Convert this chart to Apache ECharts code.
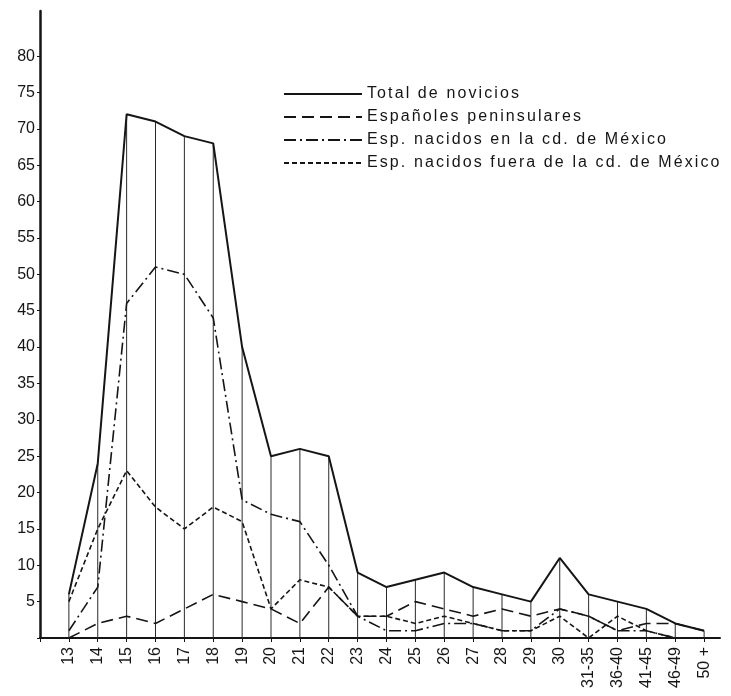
<!DOCTYPE html>
<html>
<head>
<meta charset="utf-8">
<script src="https://cdn.jsdelivr.net/npm/echarts@6/dist/echarts.min.js"></script>
<style>
  html, body { margin: 0; padding: 0; background: #ffffff; }
  #chart { width: 731px; height: 696px; }
</style>
</head>
<body>
<div id="chart"></div>
<script>
// ---- data ----
const categories = ['13','14','15','16','17','18','19','20','21','22','23','24','25','26','27','28','29','30','31-35','36-40','41-45','46-49','50 +'];
const totalNovicios = [6,24,72,71,69,68,40,25,26,25,9,7,8,9,7,6,5,11,6,5,4,2,1];
const peninsulares  = [0,2,3,2,4,6,5,4,2,7,3,3,5,4,3,4,3,4,3,1,2,2,1];
const nacidosCiudad = [1,7,46,51,50,44,19,17,16,10,3,1,1,2,2,1,1,4,3,1,1,0,0];
const nacidosFuera  = [5,15,23,18,15,18,16,4,8,7,3,3,2,3,2,1,1,3,0,3,1,0,0];
const yTickLabels = [5,10,15,20,25,30,35,40,45,50,55,60,65,70,75,80];
const seriesNames = ['Total de novicios','Españoles peninsulares','Esp. nacidos en la cd. de México','Esp. nacidos fuera de la cd. de México'];

// the printed legend is typeset with wide tracking: widen only those strings
(function () {
  const spaced = new Set(seriesNames);
  const proto = CanvasRenderingContext2D.prototype;
  const origFill = proto.fillText;
  proto.fillText = function (t, x, y, w) {
    if (spaced.has(t) && 'letterSpacing' in this) {
      const prev = this.letterSpacing;
      this.letterSpacing = '2.1px';
      const r = w === undefined ? origFill.call(this, t, x, y) : origFill.call(this, t, x, y, w);
      this.letterSpacing = prev;
      return r;
    }
    return w === undefined ? origFill.call(this, t, x, y) : origFill.call(this, t, x, y, w);
  };
})();

// x position of each category = its index + 1 (the axis starts at 0)
const pts = arr => arr.map((v, i) => [i + 1, v]);
const xLabelValues = categories.map((c, i) => i + 1);

const ink = '#151515';
const font = 'Liberation Sans, Arial, Helvetica, sans-serif';

const chart = echarts.init(document.getElementById('chart'), null, { renderer: 'canvas' });
chart.setOption({
  backgroundColor: '#ffffff',
  animation: false,
  grid: { left: 40, right: 11, top: 11, bottom: 58, containLabel: false },
  legend: {
    data: seriesNames,
    orient: 'vertical',
    left: 278,
    top: 81,
    padding: 5,
    itemWidth: 78,
    itemHeight: 14,
    itemGap: 7,
    itemStyle: { opacity: 0 },
    textStyle: { color: ink, fontSize: 16, lineHeight: 14, fontFamily: font },
    selectedMode: false
  },
  xAxis: {
    type: 'value',
    min: 0,
    max: 23.55,
    splitLine: { show: false },
    axisLine: { show: true, onZero: false, lineStyle: { color: ink, width: 2 } },
    axisTick: { show: true, length: 4, customValues: [0].concat(xLabelValues), lineStyle: { color: ink, width: 1 } },
    axisLabel: {
      customValues: xLabelValues,
      rotate: 90,
      margin: 9,
      color: ink,
      fontSize: 16,
      fontFamily: font,
      formatter: v => categories[Math.round(v) - 1] || ''
    }
  },
  yAxis: {
    type: 'value',
    min: 0,
    max: 86.2,
    splitLine: { show: false },
    axisLine: { show: true, lineStyle: { color: ink, width: 2.5 } },
    axisTick: { show: true, length: 3, customValues: [0].concat(yTickLabels), lineStyle: { color: ink, width: 1 } },
    axisLabel: {
      customValues: yTickLabels,
      margin: 5,
      color: ink,
      fontSize: 16,
      fontFamily: font
    }
  },
  series: [
    {
      name: 'verticales',
      type: 'bar',
      data: pts(totalNovicios),
      barWidth: 1,
      silent: true,
      itemStyle: { color: '#2a2a2a' },
      legendHoverLink: false,
      z: 1
    },
    {
      name: seriesNames[0],
      type: 'line',
      data: pts(totalNovicios),
      showSymbol: false,
      symbol: 'none',
      color: ink,
      lineStyle: { color: ink, width: 2, type: 'solid' },
      z: 5
    },
    {
      name: seriesNames[1],
      type: 'line',
      data: pts(peninsulares),
      showSymbol: false,
      symbol: 'none',
      color: ink,
      lineStyle: { color: ink, width: 1.6, type: [12, 6] },
      z: 4
    },
    {
      name: seriesNames[2],
      type: 'line',
      data: pts(nacidosCiudad),
      showSymbol: false,
      symbol: 'none',
      color: ink,
      lineStyle: { color: ink, width: 1.6, type: [12, 4, 2, 4] },
      z: 4
    },
    {
      name: seriesNames[3],
      type: 'line',
      data: pts(nacidosFuera),
      showSymbol: false,
      symbol: 'none',
      color: ink,
      lineStyle: { color: ink, width: 1.6, type: [5, 3] },
      z: 4
    }
  ]
});
</script>
</body>
</html>
